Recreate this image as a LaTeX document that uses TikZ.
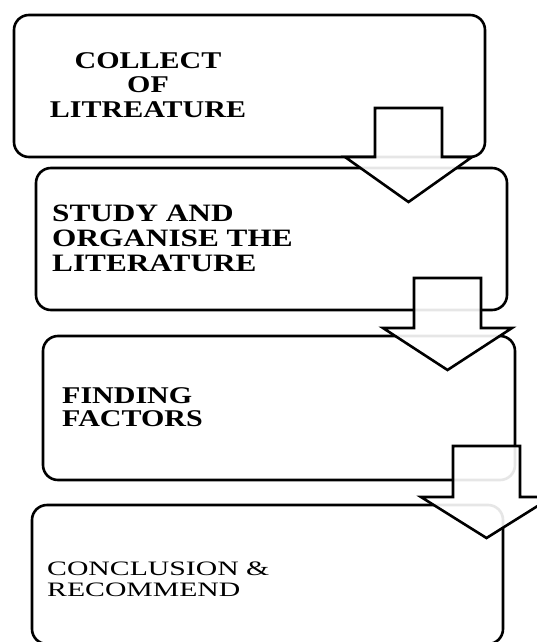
\documentclass[tikz,border=0pt]{standalone}
\usepackage{fontspec}
\newfontfamily\widebold[FakeStretch=1.25]{Liberation Serif}
\newfontfamily\wideplain[FakeStretch=1.45]{Liberation Serif}
\usetikzlibrary{positioning}

\tikzset{
  stepbox/.style={rectangle, draw, line width=2.6pt, rounded corners=15pt, minimum width=471pt, minimum height=142pt, inner sep=0pt},
  steparrow/.style={draw, line width=2.6pt, fill=white, fill opacity=0.9, line join=miter},
  steptext/.style={inner sep=0pt, anchor=north west, align=left}
}

\begin{document}
\begin{tikzpicture}[x=1pt, y=-1pt]
        \clip (0,0) rectangle (537,642);
        \fill[white] (0,0) rectangle (537,642);

        % Steps
        \node[stepbox] (collect) at (249.5,86) {};
        \node[stepbox] (study) at (271.5,239) {};
        \draw[steparrow] (375,108) -- (442,108) -- (442,157) -- (472,157) -- (408.5,202) -- (345,157) -- (375,157) -- cycle;
        \node[stepbox, minimum width=472pt, minimum height=144pt] (finding) at (279,408) {};
        \draw[steparrow] (414,278) -- (481,278) -- (481,328) -- (512,328) -- (447.5,370) -- (383,328) -- (414,328) -- cycle;
        \node[stepbox, minimum height=139pt] (conclusion) at (267.5,574.5) {};
        \draw[steparrow] (453,446) -- (520,446) -- (520,497) -- (552,497) -- (486.5,538) -- (421,497) -- (453,497) -- cycle;

        % Texts
        \node[steptext, anchor=north, align=center, font=\widebold\bfseries\fontsize{24}{24.5}\selectfont] (tcollect) at (148,52) {COLLECT\\OF\\LITREATURE};
        \node[steptext, font=\widebold\bfseries\fontsize{25}{25}\selectfont] (tstudy) at (52,205) {STUDY AND\\ORGANISE THE\\LITERATURE};
        \node[steptext, font=\widebold\bfseries\fontsize{24}{23}\selectfont] (tfinding) at (62,387) {FINDING\\FACTORS};
        \node[steptext, font=\wideplain\fontsize{20.5}{21}\selectfont] (tconclusion) at (47,562) {CONCLUSION \&\\RECOMMEND};
\end{tikzpicture}
\end{document}
